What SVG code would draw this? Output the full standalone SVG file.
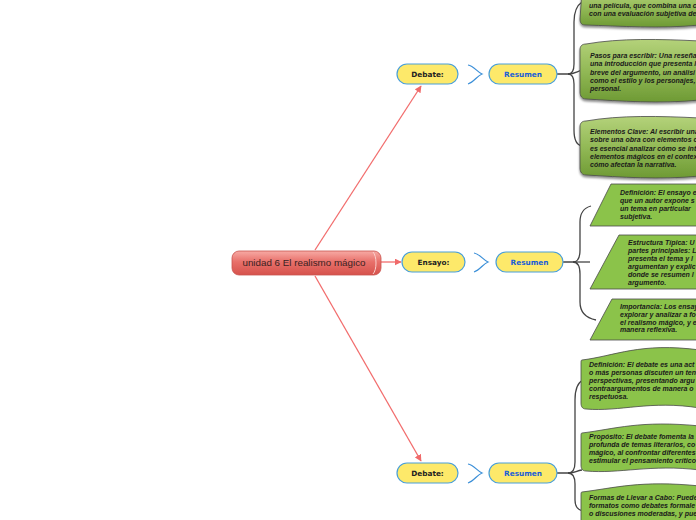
<svg xmlns="http://www.w3.org/2000/svg" width="696" height="520" viewBox="0 0 696 520">
<defs>
<linearGradient id="gRed" x1="0" y1="0" x2="0" y2="1">
<stop offset="0" stop-color="#f7aaa4"/><stop offset="0.45" stop-color="#e8706a"/><stop offset="1" stop-color="#d6524c"/>
</linearGradient>
<linearGradient id="gGreen" x1="0" y1="0" x2="0" y2="1">
<stop offset="0" stop-color="#b4d27a"/><stop offset="0.5" stop-color="#92b956"/><stop offset="1" stop-color="#6e9a34"/>
</linearGradient>
<marker id="ar" viewBox="0 0 10 10" refX="9" refY="5" markerWidth="7" markerHeight="7" orient="auto-start-reverse" markerUnits="userSpaceOnUse">
<path d="M0,0 L10,5 L0,10 z" fill="#f06a6a"/>
</marker>
<filter id="sh" x="-10%" y="-10%" width="130%" height="140%">
<feDropShadow dx="0" dy="2" stdDeviation="1.2" flood-color="#000" flood-opacity="0.45"/>
</filter>
</defs>
<style>
.red{stroke:#f26d6d;stroke-width:1.3;fill:none}
.dk{stroke:#444;stroke-width:1.3;fill:none}
.br{stroke:#3b8fd8;stroke-width:1.2;fill:none}
.yel{fill:#fde96a;stroke:#4a9fd8;stroke-width:1.2}
.yt{font-family:"DejaVu Sans",sans-serif;font-weight:bold;font-size:7.3px;fill:#222;text-anchor:middle}
.bt{font-family:"DejaVu Sans",sans-serif;font-weight:bold;font-size:7.3px;fill:#1a5ed8;text-anchor:middle}
.gb{fill:url(#gGreen);stroke:#4a4a4a;stroke-width:0.8;filter:url(#sh)}
.fb{fill:#8bc34a;stroke:#4a4a4a;stroke-width:0.8}
.gt{font-family:"Liberation Sans",sans-serif;font-weight:bold;font-style:italic;font-size:7px;fill:#1a1a1a}
.ct{font-family:"Liberation Sans",sans-serif;font-size:9.8px;fill:#3a2222;text-anchor:middle}
</style>

<g id="connectors">
<line class="red" x1="315" y1="250" x2="421" y2="86" marker-end="url(#ar)"/>
<line class="red" x1="381" y1="262" x2="401" y2="262" marker-end="url(#ar)"/>
<line class="red" x1="315" y1="276" x2="421" y2="461" marker-end="url(#ar)"/>
<path class="br" d="M468,65 C474,66 477,72 482,74 C477,76 474,82 468,84"/>
<path class="br" d="M474,253 C480,254 483,260 488,262 C483,264 480,270 474,272"/>
<path class="br" d="M468,464 C474,465 477,471 482,473 C477,475 474,481 468,483"/>
<path class="dk" d="M557,74 H568 C573,74 574,70 574,64 V22 C574,12 576,6 582,2"/>
<path class="dk" d="M568,74 C574,74 576,72 582,70"/>
<path class="dk" d="M568,74 C573,74 574,78 574,84 V130 C574,140 576,145 582,146"/>
<path class="dk" d="M563,262 H573 C578,262 580,258 580,250 V222 C580,212 584,208 591,206"/>
<path class="dk" d="M573,262 C579,262 582,262 590,262"/>
<path class="dk" d="M573,262 C578,262 580,266 580,274 V302 C580,312 586,318 596,320"/>
<path class="dk" d="M557,473 H568 C573,473 575,469 575,462 V400 C575,390 577,383 583,380"/>
<path class="dk" d="M568,473 C574,473 576,471 582,470"/>
<path class="dk" d="M568,473 C573,473 575,477 575,484 V500 C575,506 578,510 583,511"/>
</g>

<g id="central">
<rect x="232" y="251" width="149" height="24" rx="7" fill="url(#gRed)" stroke="#c9544f" stroke-width="0.8"/>
<path d="M373,252 C377,256 377,270 373,274" fill="none" stroke="#fbd0cc" stroke-width="1"/>
<text class="ct" x="304" y="266">unidad 6 El realismo mágico</text>
</g>

<g id="debate1">
<rect class="yel" x="397" y="64" width="61" height="20" rx="10"/>
<text class="yt" x="427.5" y="77">Debate:</text>
</g>
<g id="resumen1">
<rect class="yel" x="489" y="64" width="68" height="20" rx="10"/>
<text class="bt" x="523" y="77">Resumen</text>
</g>
<g id="ensayo">
<rect class="yel" x="402" y="252" width="63" height="20" rx="10"/>
<text class="yt" x="433.5" y="265">Ensayo:</text>
</g>
<g id="resumen2">
<rect class="yel" x="496" y="252" width="67" height="20" rx="10"/>
<text class="bt" x="529.5" y="265">Resumen</text>
</g>
<g id="debate2">
<rect class="yel" x="397" y="463" width="61" height="20" rx="10"/>
<text class="yt" x="427.5" y="476">Debate:</text>
</g>
<g id="resumen3">
<rect class="yel" x="489" y="463" width="68" height="20" rx="10"/>
<text class="bt" x="523" y="476">Resumen</text>
</g>

<g id="t1">
<path class="gb" d="M582,-10 H700 V25 C660,29 620,26 585,25 C581,25 580,22 580,19 Z"/>
<text class="gt" x="589" y="8">una película, que combina una c</text>
<text class="gt" x="589" y="16">con una evaluación subjetiva de</text>
</g>
<g id="t2">
<path class="gb" d="M586,44 C620,38 660,39 700,41 V100 C660,104 620,101 586,99 C582,99 580,96 580,92 V50 C580,46 582,44 586,44 Z"/>
<text class="gt" x="590" y="58">Pasos para escribir: Una reseña</text>
<text class="gt" x="590" y="66">una introducción que presenta l</text>
<text class="gt" x="590" y="74.5">breve del argumento, un análisi</text>
<text class="gt" x="590" y="83">como el estilo y los personajes,</text>
<text class="gt" x="590" y="91">personal.</text>
</g>
<g id="t3">
<path class="gb" d="M586,121 C620,115 660,116 700,118 V176 C660,180 620,177 586,175 C582,175 580,172 580,168 V127 C580,123 582,121 586,121 Z"/>
<text class="gt" x="590" y="134">Elementos Clave: Al escribir una</text>
<text class="gt" x="590" y="142">sobre una obra con elementos c</text>
<text class="gt" x="590" y="150.5">es esencial analizar cómo se int</text>
<text class="gt" x="590" y="159">elementos mágicos en el contex</text>
<text class="gt" x="590" y="167">cómo afectan la narrativa.</text>
</g>

<g id="m1">
<path class="fb" d="M611,184 H700 V226 H590 Z"/>
<text class="gt" x="620" y="195">Definición: El ensayo e</text>
<text class="gt" x="620" y="203">que un autor expone s</text>
<text class="gt" x="620" y="211">un tema en particular</text>
<text class="gt" x="620" y="219">subjetiva.</text>
</g>
<g id="m2">
<path class="fb" d="M619,235 H700 V289 H590 Z"/>
<text class="gt" x="628" y="245">Estructura Típica: U</text>
<text class="gt" x="628" y="253">partes principales: L</text>
<text class="gt" x="628" y="261">presenta el tema y l</text>
<text class="gt" x="628" y="269">argumentan y explic</text>
<text class="gt" x="628" y="277">donde se resumen l</text>
<text class="gt" x="628" y="285">argumento.</text>
</g>
<g id="m3">
<path class="fb" d="M612,299 H700 V340 H590 Z"/>
<text class="gt" x="620" y="309">Importancia: Los ensay</text>
<text class="gt" x="620" y="317">explorar y analizar a fo</text>
<text class="gt" x="620" y="325">el realismo mágico, y e</text>
<text class="gt" x="620" y="332">manera reflexiva.</text>
</g>

<g id="b1">
<path class="fb" d="M582,360 C615,356 640,342 700,350 V408 C650,400 620,412 586,409 C582,409 581,406 581,403 V364 C581,361 581,360 582,360 Z"/>
<text class="gt" x="589" y="367">Definición: El debate es una act</text>
<text class="gt" x="589" y="375">o más personas discuten un ten</text>
<text class="gt" x="589" y="383">perspectivas, presentando argu</text>
<text class="gt" x="589" y="391">contraargumentos de manera o</text>
<text class="gt" x="589" y="399">respetuosa.</text>
</g>
<g id="b2">
<path class="fb" d="M582,433 C615,429 640,420 700,426 V470 C650,464 620,474 586,471 C582,471 581,468 581,465 V437 C581,434 581,433 582,433 Z"/>
<text class="gt" x="589" y="439">Propósito: El debate fomenta la</text>
<text class="gt" x="589" y="447">profunda de temas literarios, co</text>
<text class="gt" x="589" y="455">mágico, al confrontar diferentes</text>
<text class="gt" x="589" y="463">estimular el pensamiento crítico</text>
</g>
<g id="b3">
<path class="fb" d="M582,492 C615,488 640,480 700,486 V530 H581 V496 C581,493 581,492 582,492 Z"/>
<text class="gt" x="589" y="500">Formas de Llevar a Cabo: Puede</text>
<text class="gt" x="589" y="508">formatos como debates formale</text>
<text class="gt" x="589" y="516">o discusiones moderadas, y pue</text>
</g>
</svg>
